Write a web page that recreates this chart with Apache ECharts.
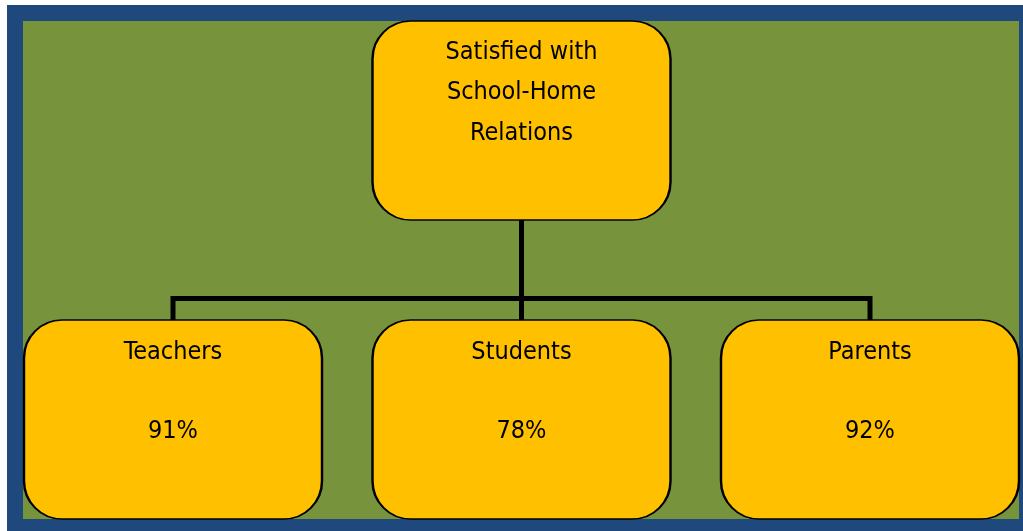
<!DOCTYPE html>
<html>
<head>
<meta charset="utf-8">
<script src="https://cdn.jsdelivr.net/npm/echarts@6/dist/echarts.min.js"></script>
<style>
html,body{margin:0;padding:0;background:#fff;}
#chart{width:1023px;height:531px;}
</style>
</head>
<body>
<div id="chart"></div>
<script>
// ---- data ----
const rootLines = ['Satisfied with', 'School-Home', 'Relations'];
const groups = ['Teachers', 'Students', 'Parents'];
const satisfiedPct = [91, 78, 92];

// ---- build tree ----
function buildTree() {
  return [{
    name: rootLines.join('\n'),
    children: groups.map((g, i) => ({ name: g, value: satisfiedPct[i] }))
  }];
}

const boxPath = 'path://M38,0 L260,0 A38,38 0 0 1 298,38 L298,161 A38,38 0 0 1 260,199 L38,199 A38,38 0 0 1 0,161 L0,38 A38,38 0 0 1 38,0 Z';
const FONT = "'Liberation Sans Narrow', 'DejaVu Sans Condensed', sans-serif";

const common = {
  type: 'tree',
  orient: 'TB',
  layout: 'orthogonal',
  left: -1.25,
  width: 1045.5,
  top: 120.5,
  height: 299,
  roam: false,
  expandAndCollapse: false,
  edgeShape: 'polyline',
  edgeForkPosition: '59.5%',
  animation: false,
  emphasis: { disabled: true }
};

const chart = echarts.init(document.getElementById('chart'), null, { renderer: 'canvas' });
chart.setOption({
  backgroundColor: '#ffffff',
  animation: false,
  tooltip: { show: false },
  graphic: [
    { type: 'rect', z: 0, shape: { x: 7, y: 5, width: 1016, height: 526 }, style: { fill: '#1F497D' }, silent: true },
    { type: 'rect', z: 0, shape: { x: 23, y: 21, width: 996, height: 498 }, style: { fill: '#77933C' }, silent: true }
  ],
  series: [
    Object.assign({}, common, {
      z: 2,
      data: buildTree(),
      symbol: 'none',
      label: { show: false },
      leaves: { label: { show: false } },
      lineStyle: { color: '#000000', width: 5, curveness: 0, join: 'miter', cap: 'square' }
    }),
    Object.assign({}, common, {
      z: 3,
      data: buildTree(),
      symbol: boxPath,
      symbolSize: [298, 199],
      symbolKeepAspect: false,
      itemStyle: { color: '#FFC000', borderColor: '#000000', borderWidth: 2 },
      lineStyle: { width: 0, opacity: 0 },
      label: {
        show: true,
        position: 'inside',
        offset: [0, -28],
        color: '#000000',
        fontFamily: FONT,
        fontSize: 25,
        lineHeight: 40.5,
        align: 'center',
        verticalAlign: 'middle'
      },
      leaves: {
        label: {
          show: true,
          position: 'inside',
          offset: [0, -28],
          color: '#000000',
          fontFamily: FONT,
          fontSize: 25,
          lineHeight: 79,
          align: 'center',
          verticalAlign: 'middle',
          formatter: p => p.name + '\n' + p.value + '%'
        }
      }
    })
  ]
});
</script>
</body>
</html>
